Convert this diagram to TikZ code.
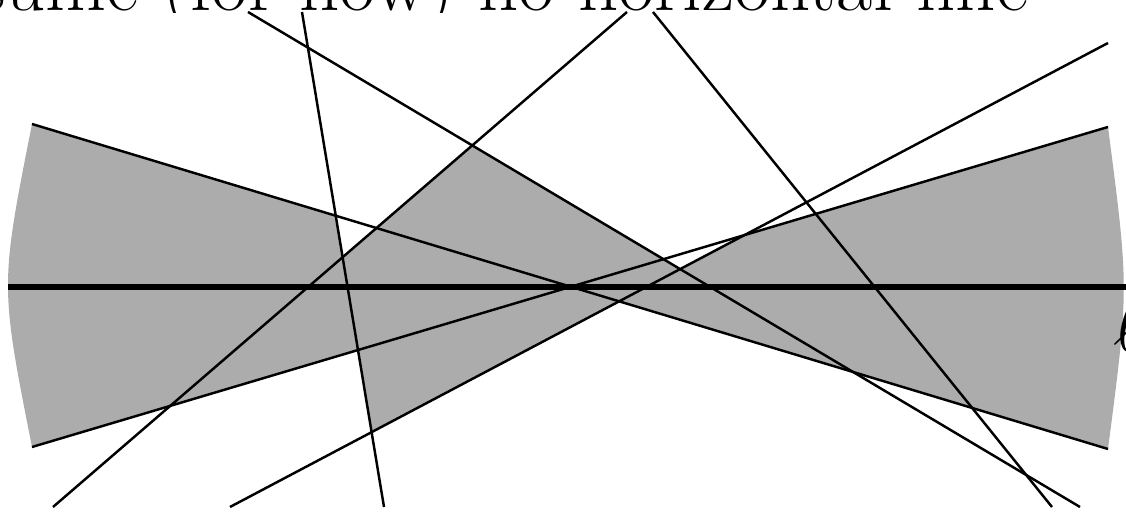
\RequirePackage{fix-cm}
\documentclass[tikz,border=0pt]{standalone}
\usepackage{xcolor}
\usepackage{tikz}
\definecolor{zonegray}{RGB}{172,172,172}

\begin{document}
\begin{tikzpicture}[x=0.01cm, y=-0.01cm,
    face/.style={fill=zonegray},
    arr/.style={line width=0.7pt},
    zl/.style={line width=1.9pt},
    lbl/.style={inner sep=0pt, font=\fontsize{22.4}{26}\selectfont}
]
\useasboundingbox (0,0) rectangle (1126,513);
% end points of the lines
\coordinate (b1s) at (32,124);  \coordinate (b1e) at (1108,449);
\coordinate (b2s) at (32,447);  \coordinate (b2e) at (1108,127);
\coordinate (l1s) at (248,12);  \coordinate (l1e) at (1080,507);
\coordinate (l2s) at (653,12);  \coordinate (l2e) at (1052,507);
\coordinate (l3s) at (627,12);  \coordinate (l3e) at (53,507);
\coordinate (l4s) at (230,507); \coordinate (l4e) at (1108,43);
\coordinate (l5s) at (302,12);  \coordinate (l5e) at (384,507);
\coordinate (hl) at (8,287);    \coordinate (hr) at (1126,287);
% crossings that bound the zone
\coordinate (c)    at (intersection of b1s--b1e and b2s--b2e);
\coordinate (b1l1) at (intersection of b1s--b1e and l1s--l1e);
\coordinate (b1l3) at (intersection of b1s--b1e and l3s--l3e);
\coordinate (b1l4) at (intersection of b1s--b1e and l4s--l4e);
\coordinate (b1l5) at (intersection of b1s--b1e and l5s--l5e);
\coordinate (b2l1) at (intersection of b2s--b2e and l1s--l1e);
\coordinate (b2l4) at (intersection of b2s--b2e and l4s--l4e);
\coordinate (b2l5) at (intersection of b2s--b2e and l5s--l5e);
\coordinate (l1l3) at (intersection of l1s--l1e and l3s--l3e);
\coordinate (l1l4) at (intersection of l1s--l1e and l4s--l4e);
\coordinate (l3l5) at (intersection of l3s--l3e and l5s--l5e);
\coordinate (l4l5) at (intersection of l4s--l4e and l5s--l5e);
% zone faces
\fill[face] (b1s) -- (b1l5) -- (l3l5) -- (b1l3) -- (c) -- (b2s) .. controls (0,285.5) .. (b1s) -- cycle;
\fill[face] (c) -- (b2l1) -- (l1l4) -- (b2l4) -- (b2e) .. controls (1129,288) .. (b1e) -- cycle;
\fill[face] (c) -- (b1l3) -- (l1l3) -- (b2l1) -- cycle;
\fill[face] (c) -- (b1l4) -- (l4l5) -- (b2l5) -- cycle;
% lines
\foreach \a/\b in {b1s/b1e, b2s/b2e, l1s/l1e, l2s/l2e, l3s/l3e, l4s/l4e, l5s/l5e}
  \draw[arr] (\a) -- (\b);
\draw[zl] (hl) -- (hr);
% labels
\begin{scope}
  \clip (0,0) rectangle (1126,13);
  \node[lbl, anchor=base west] (title) at (-88,11) {assume (for now) no horizontal line};
\end{scope}
\node[lbl, anchor=base west] (ell) at (1113,352) {$\ell$};
\end{tikzpicture}
\end{document}
